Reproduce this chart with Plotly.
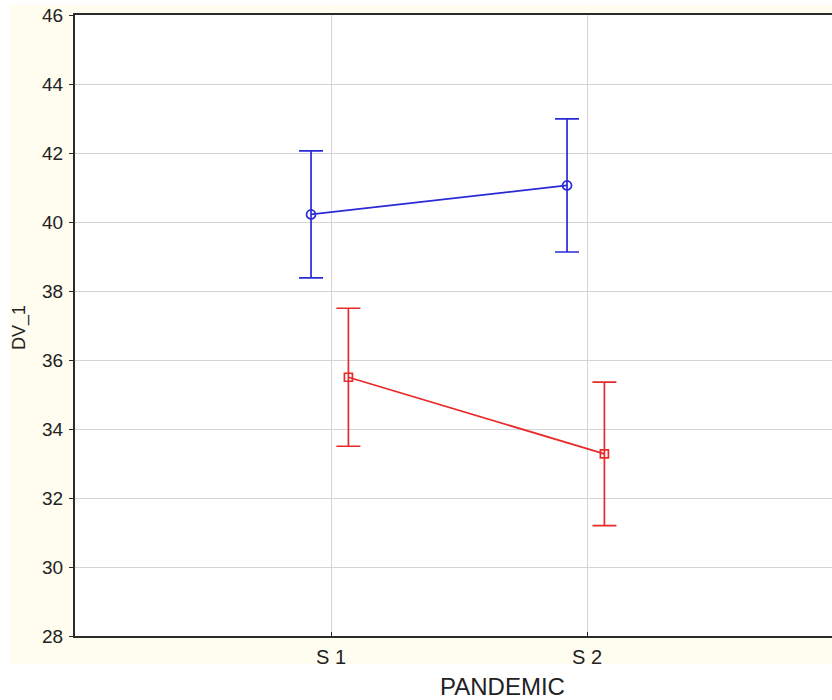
import plotly.graph_objects as go

# ---- data ----
categories = ["S 1", "S 2"]
cat_pos = [1, 2]
group_a_mean = [40.22, 41.06]
group_a_err = [1.84, 1.93]
group_b_mean = [35.50, 33.28]
group_b_err = [2.00, 2.08]
y_ticks = [28, 30, 32, 34, 36, 38, 40, 42, 44, 46]

# ---- layout constants ----
W, H = 832, 700
ML, MR, MT, MB = 75, 0, 15, 64
plot_w = W - ML - MR
plot_h = H - MT - MB
px_per_unit = 256
x_max = plot_w / px_per_unit
dodge_a = -0.078
dodge_b = 0.068

blue = "#2a2ad6"
red = "#e82a2a"

fig = go.Figure()
fig.add_trace(go.Scatter(
    x=[p + dodge_a for p in cat_pos], y=group_a_mean,
    mode="lines+markers",
    line=dict(color=blue, width=1.7),
    marker=dict(symbol="circle-open", size=9, color=blue, line=dict(width=1.7, color=blue)),
    error_y=dict(type="data", array=group_a_err, visible=True, color=blue, thickness=1.7, width=12),
    showlegend=False,
))
fig.add_trace(go.Scatter(
    x=[p + dodge_b for p in cat_pos], y=group_b_mean,
    mode="lines+markers",
    line=dict(color=red, width=1.7),
    marker=dict(symbol="square-open", size=8, color=red, line=dict(width=1.7, color=red)),
    error_y=dict(type="data", array=group_b_err, visible=True, color=red, thickness=1.7, width=12),
    showlegend=False,
))

def px_x(px):
    return (px - ML) / plot_w

def px_y(py):
    return (H - MB - py) / plot_h

fig.add_shape(type="rect", xref="paper", yref="paper",
              x0=px_x(10), x1=1.0, y0=px_y(664), y1=px_y(5),
              fillcolor="#fffcf0", line=dict(width=0), layer="below")
fig.add_shape(type="rect", xref="paper", yref="paper",
              x0=0, x1=1.0, y0=0, y1=1,
              fillcolor="white", line=dict(width=0), layer="below")

font_family = "Liberation Sans, Arial, sans-serif"

fig.add_annotation(text="PANDEMIC", xref="paper", yref="paper",
                   x=px_x(502), y=px_y(686), showarrow=False,
                   font=dict(family=font_family, size=24, color="#222222"),
                   xanchor="center", yanchor="middle")
fig.add_annotation(text="DV_1", xref="paper", yref="paper",
                   x=px_x(19), y=px_y(327), showarrow=False, textangle=-90,
                   font=dict(family=font_family, size=18, color="#222222"),
                   xanchor="center", yanchor="middle")

fig.update_layout(
    width=W, height=H,
    margin=dict(l=ML, r=MR, t=MT, b=MB, pad=0),
    paper_bgcolor="white", plot_bgcolor="white",
    font=dict(family=font_family, color="#222222"),
    xaxis=dict(
        range=[0, x_max], tickvals=cat_pos, ticktext=categories,
        showgrid=True, gridcolor="#d4d4d4", gridwidth=1,
        showline=True, linecolor="#2b2b2b", linewidth=2, mirror=True,
        ticks="inside", ticklen=4, tickcolor="#2b2b2b",
        tickfont=dict(size=20, color="#222222"),
        ticklabelstandoff=2, zeroline=False, fixedrange=True,
    ),
    yaxis=dict(
        range=[28, 46], tickvals=y_ticks,
        showgrid=True, gridcolor="#d4d4d4", gridwidth=1,
        showline=True, linecolor="#2b2b2b", linewidth=2,
        ticks="outside", ticklen=4, tickcolor="#2b2b2b",
        tickfont=dict(size=19, color="#222222"),
        ticklabelstandoff=2, zeroline=False, fixedrange=True,
    ),
)

fig.write_html(
    "out.html",
    config={"displayModeBar": False},
    post_script="document.body.style.margin='0';document.body.style.overflow='hidden';",
)
